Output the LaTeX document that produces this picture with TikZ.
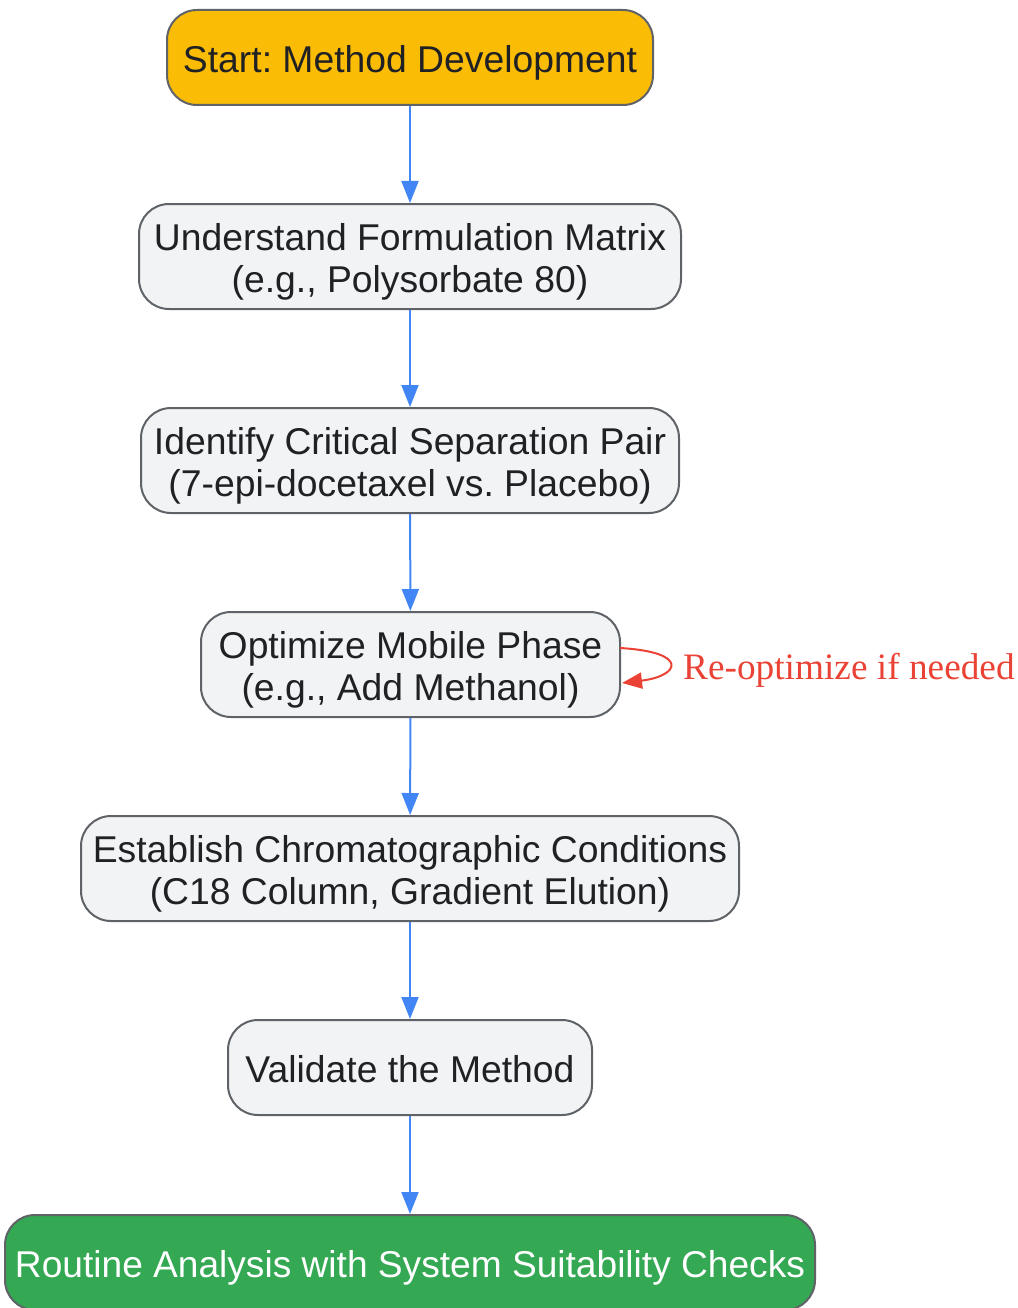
\documentclass[tikz,border=0pt]{standalone}
\usepackage{fontspec}
\setmainfont{Liberation Sans}
\newfontfamily\serifrm{Liberation Serif}
\usetikzlibrary{arrows.meta}
\frenchspacing
\definecolor{boxgrey}{HTML}{F1F3F4}
\definecolor{edgegrey}{HTML}{5F6368}
\definecolor{txt}{HTML}{202124}
\definecolor{gblue}{HTML}{4285F4}
\definecolor{gyellow}{HTML}{FBBC05}
\definecolor{ggreen}{HTML}{34A853}
\definecolor{gred}{HTML}{EA4335}
\newlength{\boxtxtshift}
\setlength{\boxtxtshift}{7pt}
\newsavebox{\txtbox}
\newlength{\txtht}
\newlength{\txtdp}
\newcommand{\boxlines}[1]{\sbox{\txtbox}{\begin{tabular}{@{}c@{}}#1\end{tabular}}%
  \setlength{\txtht}{\ht\txtbox}\setlength{\txtdp}{\dp\txtbox}%
  \raisebox{-\boxtxtshift}[\txtht][\txtdp]{\usebox{\txtbox}}}
\tikzset{
  stepbox/.style={draw=edgegrey, line width=2pt, fill=boxgrey, rounded corners=30pt,
    text=txt, align=center, inner sep=0pt, font=\fontsize{37.3}{42}\selectfont},
  flow/.style={draw=gblue, line width=2pt, -{Triangle[length=22pt,width=17pt]}},
  loopy/.style={draw=gred, line width=2pt, -{Triangle[length=20pt,width=16pt]}}
}
\begin{document}
\begin{tikzpicture}[x=1pt,y=-1pt]
\useasboundingbox (0,0) rectangle (1017,1308);
\node[stepbox, fill=gyellow, minimum width=486pt, minimum height=95pt] (start) at (410,57.5) {\boxlines{Start: Method Development}};
\node[stepbox, minimum width=542pt, minimum height=105pt] (understand) at (410,256.5) {\boxlines{Understand Formulation Matrix\\(e.g., Polysorbate 80)}};
\node[stepbox, minimum width=538pt, minimum height=105pt] (identify) at (410,460.5) {\boxlines{Identify Critical Separation Pair\\(7-epi-docetaxel vs. Placebo)}};
\node[stepbox, minimum width=419pt, minimum height=105pt] (optimize) at (410.5,664.5) {\boxlines{Optimize Mobile Phase\\(e.g., Add Methanol)}};
\node[stepbox, minimum width=658pt, minimum height=105pt] (establish) at (410,868.5) {\boxlines{Establish Chromatographic Conditions\\(C18 Column, Gradient Elution)}};
\node[stepbox, minimum width=364pt, minimum height=95pt] (validate) at (410,1067.5) {\boxlines{Validate the Method}};
\node[stepbox, fill=ggreen, text=white, minimum width=810pt, minimum height=95pt] (routine) at (410,1262.5) {\boxlines{\resizebox{790pt}{\height}{Routine Analysis with System Suitability Checks}}};
\draw[flow] (start) -- (understand);
\draw[flow] (understand) -- (identify);
\draw[flow] (identify) -- (optimize);
\draw[flow] (optimize) -- (establish);
\draw[flow] (establish) -- (validate);
\draw[flow] (validate) -- (routine);
\coordinate (lstart) at (620,648);
\coordinate (lend) at (622,683);
\draw[loopy] (lstart) .. controls (690,652) and (680,676) .. (lend);
\node[anchor=west, text=gred, font=\serifrm\fontsize{37.3}{42}\selectfont, inner sep=0pt] (lbl) at (683,670) {\raisebox{-3pt}{Re-optimize if needed}};
\end{tikzpicture}
\end{document}
